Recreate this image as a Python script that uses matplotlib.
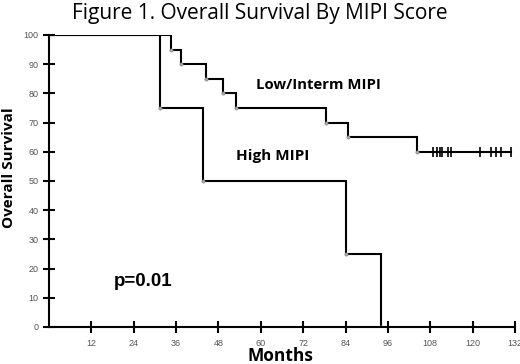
import matplotlib
matplotlib.use("Agg")
import matplotlib.pyplot as plt

# Data
low_times = [0, 34.5, 37.5, 44.5, 49.3, 52.9, 78.6, 84.6, 104.3, 131.0]
low_surv = [100, 95, 90, 85, 80, 75, 70, 65, 60, 60]
high_times = [0, 31.5, 43.5, 84.2, 94.0]
high_surv = [100, 75, 50, 25, 0]
censor_times = [108.9, 110.0, 110.7, 111.4, 113.1, 113.8, 122.0, 125.1, 126.6, 128.0, 131.0]
censor_surv = [60] * len(censor_times)
x_ticks = [12, 24, 36, 48, 60, 72, 84, 96, 108, 120, 132]
y_ticks = [0, 10, 20, 30, 40, 50, 60, 70, 80, 90, 100]

fig = plt.figure(figsize=(5.2, 3.64), dpi=100)
ax = fig.add_axes([49/520, 1 - 327/364, 466/520, 292/364])

ax.plot(low_times, low_surv, drawstyle="steps-post", color="black", lw=1.5, solid_joinstyle="miter")
ax.plot(high_times, high_surv, drawstyle="steps-post", color="black", lw=1.5, solid_joinstyle="miter")
# small dots at drop points
ax.plot(low_times[1:-1], low_surv[1:-1], "o", ms=2.3, mfc="#aaaaaa", mec="#888888", mew=0.5)
ax.plot(high_times[1:], high_surv[1:], "o", ms=2.3, mfc="#aaaaaa", mec="#888888", mew=0.5)
# censor marks
ax.plot(censor_times, censor_surv, "|", ms=7, mew=1.2, color="black")

ax.set_xlim(0, 132)
ax.set_ylim(0, 100)
for s in ["top", "right"]:
    ax.spines[s].set_visible(False)
for s in ["left", "bottom"]:
    ax.spines[s].set_linewidth(1.5)
ax.set_xticks(x_ticks)
ax.set_yticks(y_ticks)
ax.tick_params(direction="inout", length=9, width=1.5, labelsize=6.5,
               labelcolor="#555555", pad=3, labelfontfamily="Liberation Sans")
ax.tick_params(axis="x", pad=4)

fig.text(0.5, 1 - 13/364, "Figure 1. Overall Survival By MIPI Score", ha="center", va="center",
         fontsize=15, family="Open Sans")
fig.text(9/520, 1 - 168/364, "Overall Survival", rotation=90, ha="center", va="center",
         fontsize=11, fontweight="bold", family="Open Sans")
fig.text(280/520, 1 - 356/364, "Months", ha="center", va="center",
         fontsize=12.5, fontweight="bold", family="Open Sans")

ax.text(58.5, 83, "Low/Interm MIPI", ha="left", va="center", fontsize=10.7,
        fontweight="bold", family="Open Sans")
ax.text(53, 58.5, "High MIPI", ha="left", va="center", fontsize=11,
        fontweight="bold", family="Open Sans")
ax.text(18.5, 15.5, "p=0.01", ha="left", va="center", fontsize=13.5,
        fontweight="bold", family="Liberation Sans")

fig.savefig("out.png", dpi=100)
